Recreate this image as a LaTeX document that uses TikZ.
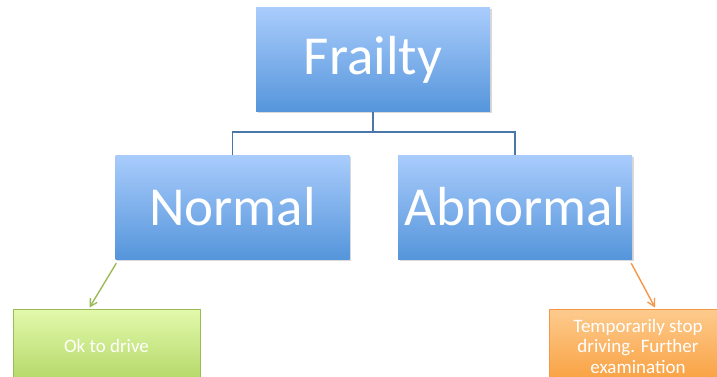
\documentclass[tikz,border=0pt]{standalone}
\usepackage{fontspec}
\setmainfont{Carlito}
\usetikzlibrary{arrows.meta,shadows,calc}
\definecolor{bluetop}{HTML}{A9CCFC}
\definecolor{bluebot}{HTML}{5595DB}
\definecolor{linkblue}{HTML}{4A76A8}
\definecolor{greentop}{HTML}{E2F9AC}
\definecolor{greenbot}{HTML}{B3D766}
\definecolor{greenline}{HTML}{9BBB59}
\definecolor{orangetop}{HTML}{FDCB8E}
\definecolor{orangebot}{HTML}{F9A03F}
\definecolor{orangeline}{HTML}{F79646}
\tikzset{
  bluebox/.style={rectangle, minimum width=234pt, minimum height=104pt, inner sep=0pt,
    top color=bluetop, bottom color=bluebot, text=white, font=\fontsize{55}{60}\selectfont,
    drop shadow={shadow xshift=1.5pt, shadow yshift=-1.5pt, opacity=0.3}},
  greenbox/.style={rectangle, draw=greenline, line width=1pt, minimum width=187pt, minimum height=74pt,
    inner sep=0pt, top color=greentop, bottom color=greenbot, text=white, font=\fontsize{19}{20.5}\selectfont},
  orangebox/.style={rectangle, draw=orangeline, line width=1pt, minimum width=178pt, minimum height=74pt,
    inner sep=0pt, top color=orangetop, bottom color=orangebot, text=white, align=center,
    font=\fontsize{19}{20.5}\selectfont},
  link/.style={draw=linkblue, line width=1.5pt},
  garrow/.style={draw=greenline, line width=1.4pt, -{Straight Barb[length=7pt,width=8pt]}},
  oarrow/.style={draw=orangeline, line width=1.4pt, -{Straight Barb[length=7pt,width=8pt]}}
}
\begin{document}
\begin{tikzpicture}[x=1pt,y=-1pt]
\useasboundingbox (0,0) rectangle (717,377);
\clip (0,0) rectangle (717,377);
\node[bluebox] (F) at (373,60) {Frailty};
\node[bluebox] (N) at (232.5,207) {Normal};
\node[bluebox] (A) at (515,207) {Abnormal};
\node[greenbox] (G) at (106.5,346) {Ok to drive};
\node[orangebox] (O) at (638,346) {Temporarily stop\\driving. Further\\examination};
\draw[link] (F.south) -- ++(0,20) -| (N.north);
\draw[link] (F.south) -- ++(0,20) -| (A.north);
\coordinate (gs) at ($(N.south west)+(1,4)$);
\coordinate (ge) at ($(G.north)+(-17,-1)$);
\coordinate (os) at ($(A.south east)+(-1,4)$);
\coordinate (oe) at ($(O.north)+(17,-1)$);
\draw[garrow] (gs) -- (ge);
\draw[oarrow] (os) -- (oe);
\end{tikzpicture}
\end{document}
